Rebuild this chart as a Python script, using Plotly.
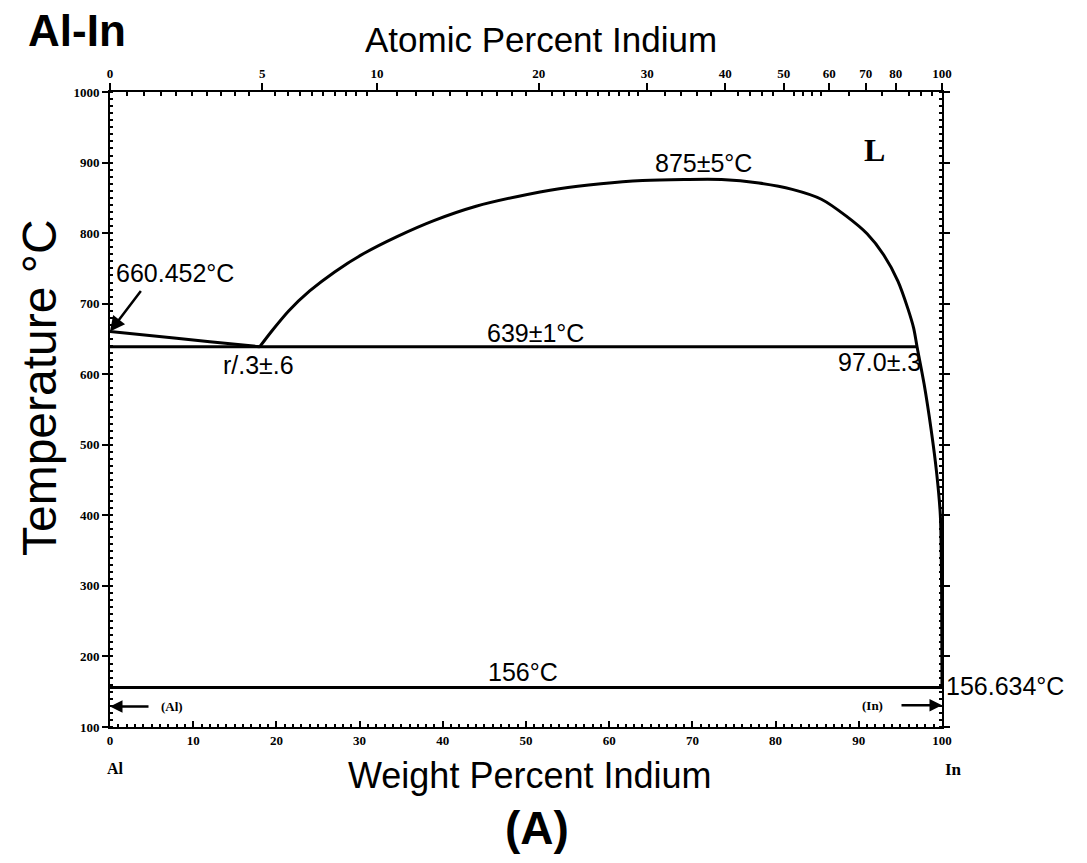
import plotly.graph_objects as go

# ---------------- data ----------------
# Liquidus, Al-rich side (wt% In, deg C)
liq_al_wt = [0, 4, 8, 12, 15.5, 18.0]
liq_al_T = [660.452, 656, 651, 646, 641.5, 639]

# Liquidus / miscibility-gap dome and In-rich liquidus
liq_wt = [18.0, 19.5, 21.5, 24.0, 27.0, 30.5, 34.5, 39.0, 44.0, 49.0, 54.0, 59.0,
          64.0, 69.0, 73.5, 78.0, 82.0, 85.5, 88.5, 91.0, 93.0, 94.7, 95.9, 96.6,
          97.0, 97.85, 98.7, 99.35, 99.8, 99.95, 100]
liq_T = [639, 662, 690, 718, 745, 771, 795, 818, 838, 852, 863, 870,
         874.5, 876, 876, 871, 862, 848, 824, 799, 769, 732, 693, 665,
         639, 586, 521, 461, 400, 300, 156.634]

# Invariant lines
monotectic_wt = [0, 97.0]
monotectic_T = [639, 639]
eutectic_wt = [0, 100]
eutectic_T = [156, 156]

# Top axis: atomic percent indium
at_ticks = [0, 5, 10, 20, 30, 40, 50, 60, 70, 80, 100]
at_minor_all = ([i * 0.5 for i in range(1, 20)] + list(range(11, 30)) +
                list(range(32, 60, 2)) + list(range(65, 100, 5)))
at_minor = [a for a in at_minor_all if a not in at_ticks]

# Bottom / left ticks
wt_ticks = [0, 10, 20, 30, 40, 50, 60, 70, 80, 90, 100]
T_ticks = [100, 200, 300, 400, 500, 600, 700, 800, 900, 1000]

M_IN = 114.818
M_AL = 26.9815


def at_to_wt(a):
    return 100.0 * a * M_IN / (a * M_IN + (100 - a) * M_AL)


# Labels (text, x wt%, y degC)
labels = [
    ("660.452°C", 7.8, 743),
    ("875±5°C", 71.3, 899),
    ("639±1°C", 51.1, 658),
    ("r/.3±.6", 17.8, 613),
    ("97.0±.3", 92.5, 617),
    ("156°C", 49.6, 178),
]

FONT = "Liberation Sans"
SERIF = "Liberation Serif"
LW = 3

fig = go.Figure()

fig.add_trace(go.Scatter(x=liq_al_wt, y=liq_al_T, mode="lines",
                         line=dict(color="black", width=LW), hoverinfo="skip"))
fig.add_trace(go.Scatter(x=liq_wt, y=liq_T, mode="lines",
                         line=dict(color="black", width=LW, shape="spline", smoothing=0.8),
                         hoverinfo="skip"))
fig.add_trace(go.Scatter(x=monotectic_wt, y=monotectic_T, mode="lines",
                         line=dict(color="black", width=LW), hoverinfo="skip"))
fig.add_trace(go.Scatter(x=eutectic_wt, y=eutectic_T, mode="lines",
                         line=dict(color="black", width=LW), hoverinfo="skip"))
# invisible trace to create top axis
fig.add_trace(go.Scatter(x=[0, 100], y=[1000, 1000], xaxis="x2", mode="lines",
                         line=dict(color="rgba(0,0,0,0)", width=0), hoverinfo="skip"))

tickfont = dict(family=SERIF, size=13, color="black", weight="bold")

fig.update_layout(
    width=1087, height=863,
    margin=dict(l=110, r=145, t=92, b=136),
    paper_bgcolor="white", plot_bgcolor="white",
    showlegend=False,
    xaxis=dict(range=[0, 100], tickmode="array", tickvals=wt_ticks,
               ticks="inside", ticklen=6, tickwidth=1.5, tickcolor="black",
               minor=dict(dtick=1, tick0=0, ticks="inside", ticklen=3, tickcolor="black"),
               showline=True, linecolor="black", linewidth=2, mirror=True,
               showgrid=False, zeroline=False, tickfont=tickfont),
    xaxis2=dict(range=[0, 100], overlaying="x", side="top", anchor="y",
                tickmode="array", tickvals=[at_to_wt(a) for a in at_ticks],
                ticktext=[str(a) for a in at_ticks],
                ticks="outside", ticklen=7, tickwidth=1.5, tickcolor="black",
                minor=dict(tickmode="array", tickvals=[at_to_wt(a) for a in at_minor],
                           ticks="inside", ticklen=4, tickcolor="black"),
                showline=True, linecolor="black", linewidth=2,
                showgrid=False, zeroline=False, tickfont=tickfont),
    yaxis=dict(range=[100, 1000], tickmode="array", tickvals=T_ticks,
               ticks="outside", ticklen=6, tickwidth=1.5, tickcolor="black",
               minor=dict(dtick=10, tick0=100, ticks="inside", ticklen=3, tickcolor="black"),
               showline=True, linecolor="black", linewidth=2, mirror="ticks",
               showgrid=False, zeroline=False, tickfont=tickfont),
)

ann = []
for txt, x, y in labels:
    ann.append(dict(x=x, y=y, xref="x", yref="y", text=txt, showarrow=False,
                    xanchor="center", yanchor="middle",
                    font=dict(family=FONT, size=25, color="black")))
# 156.634 label at right edge
ann.append(dict(x=100, y=158, xref="x", yref="y", text="156.634°C", showarrow=False,
                xanchor="left", yanchor="middle", xshift=2,
                font=dict(family=FONT, size=25, color="black")))
# arrow to Al melting point
ann.append(dict(x=0, y=660.452, xref="x", yref="y", text="", showarrow=True,
                ax=32, ay=-42, arrowhead=2, arrowsize=1.2, arrowwidth=2.5, arrowcolor="black"))
# phase labels
ann.append(dict(x=91.9, y=918, xref="x", yref="y", text="<b>L</b>", showarrow=False,
                xanchor="center", yanchor="middle",
                font=dict(family=SERIF, size=32, color="black")))
ann.append(dict(x=7.4, y=129, xref="x", yref="y", text="<b>(Al)</b>", showarrow=False,
                xanchor="center", yanchor="middle",
                font=dict(family=SERIF, size=13, color="black")))
ann.append(dict(x=91.6, y=131, xref="x", yref="y", text="<b>(In)</b>", showarrow=False,
                xanchor="center", yanchor="middle",
                font=dict(family=SERIF, size=13, color="black")))
ann.append(dict(x=0, y=129, xref="x", yref="y", text="", showarrow=True,
                ax=40, ay=0, arrowhead=2, arrowsize=1, arrowwidth=2.5, arrowcolor="black"))
ann.append(dict(x=100, y=131, xref="x", yref="y", text="", showarrow=True,
                ax=-42, ay=0, arrowhead=2, arrowsize=1, arrowwidth=2.5, arrowcolor="black"))
# titles and element labels (paper coords)
paper_texts = [
    ("Weight Percent Indium", 0.505, -0.0756, dict(family=FONT, size=36), 0),
    ("Atomic Percent Indium", 0.518, 1.082, dict(family=FONT, size=35), 0),
    ("<b>Al-In</b>", -0.0397, 1.0976, dict(family=FONT, size=44), 0),
    ("<b>(A)</b>", 0.513, -0.159, dict(family=FONT, size=46), 0),
    ("Temperature °C", -0.084, 0.534, dict(family=FONT, size=48), -90),
    ("<b>Al</b>", 0.007, -0.0646, dict(family=SERIF, size=16), 0),
    ("<b>In</b>", 1.0144, -0.0677, dict(family=SERIF, size=17), 0),
]
for txt, x, y, f, ang in paper_texts:
    f = dict(f, color="black")
    ann.append(dict(x=x, y=y, xref="paper", yref="paper", text=txt, showarrow=False,
                    xanchor="center", yanchor="middle", textangle=ang, font=f))
fig.update_layout(annotations=ann)

fig.write_html("out.html", config={"displayModeBar": False},
               post_script="document.body.style.margin='0';")
